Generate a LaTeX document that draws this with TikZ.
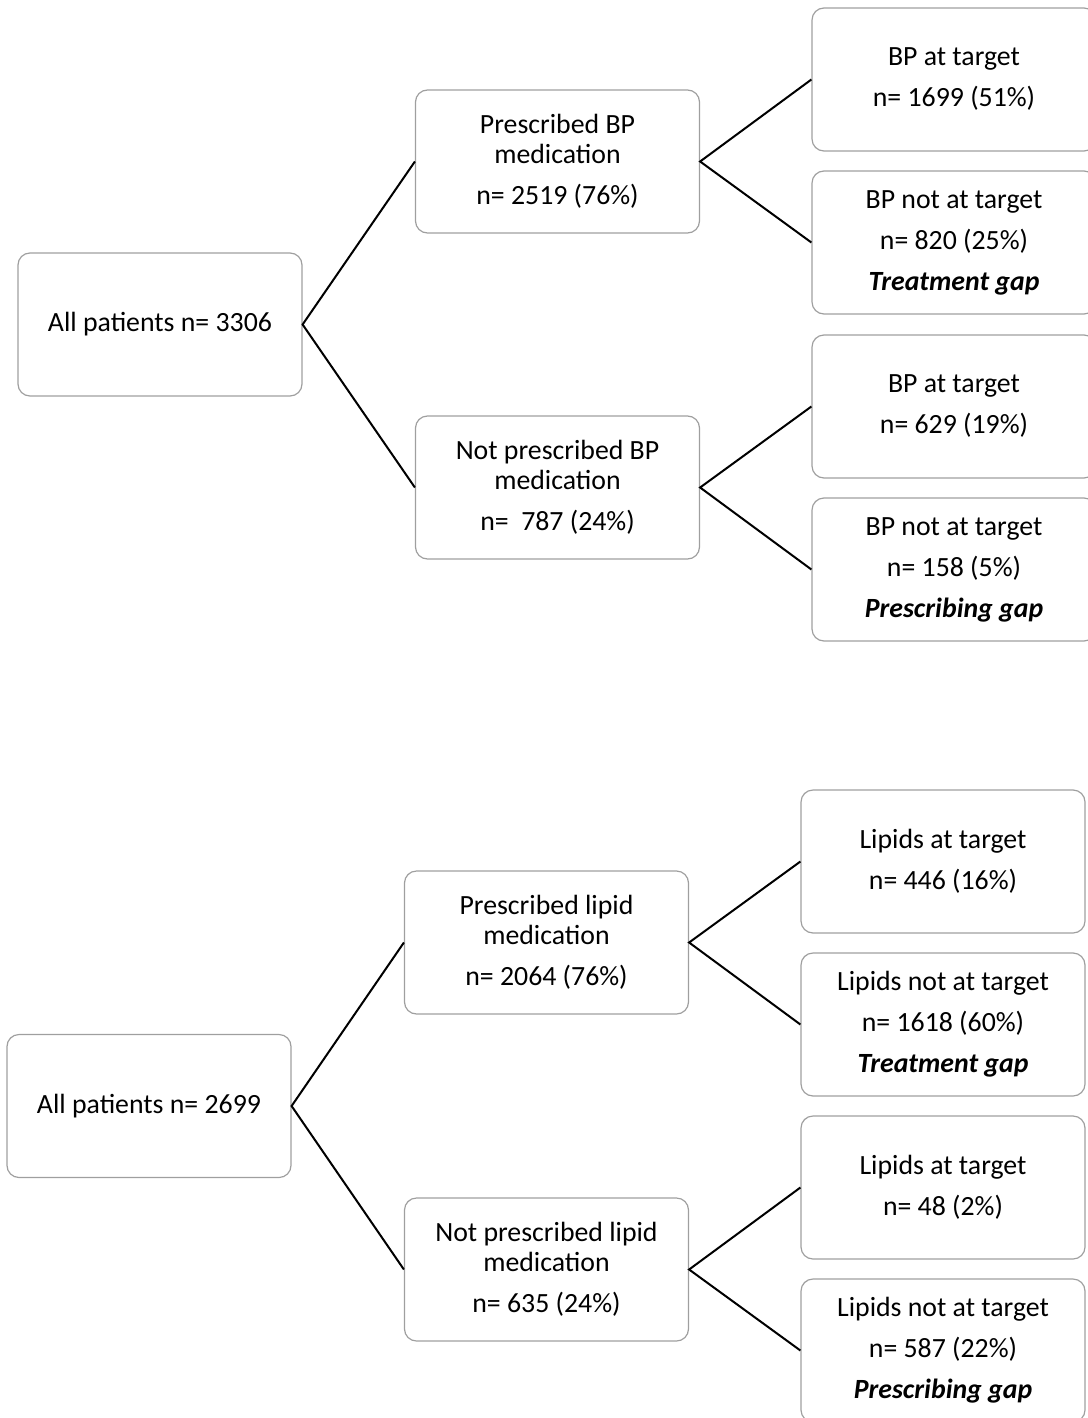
\documentclass[tikz,border=0pt]{standalone}
\usepackage{fontspec}
\setmainfont{Carlito}
\usepackage{tikz}

\begin{document}
\begin{tikzpicture}[x=0.5pt, y=-0.5pt,
    box/.style={draw=gray!75, line width=0.6pt, rounded corners=6pt,
        minimum width=142pt, minimum height=71.5pt, inner sep=0pt,
        align=center, font=\fontsize{13.9}{15}\selectfont},
    link/.style={line width=1pt}]
    \useasboundingbox (0,0) rectangle (1087,1418);

    % blood pressure tree
    \node[box] (allbp) at (160,324.5) {All patients n= 3306};
    \node[box] (presbp) at (557.5,161.5) {Prescribed BP\\medication\\[5.5pt]n= 2519 (76\%)};
    \node[box] (nopresbp) at (557.5,487.5) {Not prescribed BP\\medication\\[5.5pt]n=\ \ 787 (24\%)};
    \node[box] (bpa) at (954,79.5) {BP at target\\[5.5pt]n= 1699 (51\%)};
    \node[box] (bpb) at (954,242.5) {BP not at target\\[5.5pt]n= 820 (25\%)\\[5.5pt]\textbf{\textit{Treatment gap}}};
    \node[box] (bpc) at (954,406.5) {BP at target\\[5.5pt]n= 629 (19\%)};
    \node[box] (bpd) at (954,569.5) {BP not at target\\[5.5pt]n= 158 (5\%)\\[5.5pt]\textbf{\textit{Prescribing gap}}};

    \draw[link] (presbp.west) -- (allbp.east) -- (nopresbp.west);
    \draw[link] (bpa.west) -- (presbp.east) -- (bpb.west);
    \draw[link] (bpc.west) -- (nopresbp.east) -- (bpd.west);

    % lipid tree
    \node[box] (alllip) at (149,1106) {All patients n= 2699};
    \node[box] (preslip) at (546.5,942.5) {Prescribed lipid\\medication\\[5.5pt]n= 2064 (76\%)};
    \node[box] (nopreslip) at (546.5,1269.5) {Not prescribed lipid\\medication\\[5.5pt]n= 635 (24\%)};
    \node[box] (lipa) at (943,861.5) {Lipids at target\\[5.5pt]n= 446 (16\%)};
    \node[box] (lipb) at (943,1024.5) {Lipids not at target\\[5.5pt]n= 1618 (60\%)\\[5.5pt]\textbf{\textit{Treatment gap}}};
    \node[box] (lipc) at (943,1187.5) {Lipids at target\\[5.5pt]n= 48 (2\%)};
    \node[box] (lipd) at (943,1350.5) {Lipids not at target\\[5.5pt]n= 587 (22\%)\\[5.5pt]\textbf{\textit{Prescribing gap}}};

    \draw[link] (preslip.west) -- (alllip.east) -- (nopreslip.west);
    \draw[link] (lipa.west) -- (preslip.east) -- (lipb.west);
    \draw[link] (lipc.west) -- (nopreslip.east) -- (lipd.west);
\end{tikzpicture}
\end{document}
